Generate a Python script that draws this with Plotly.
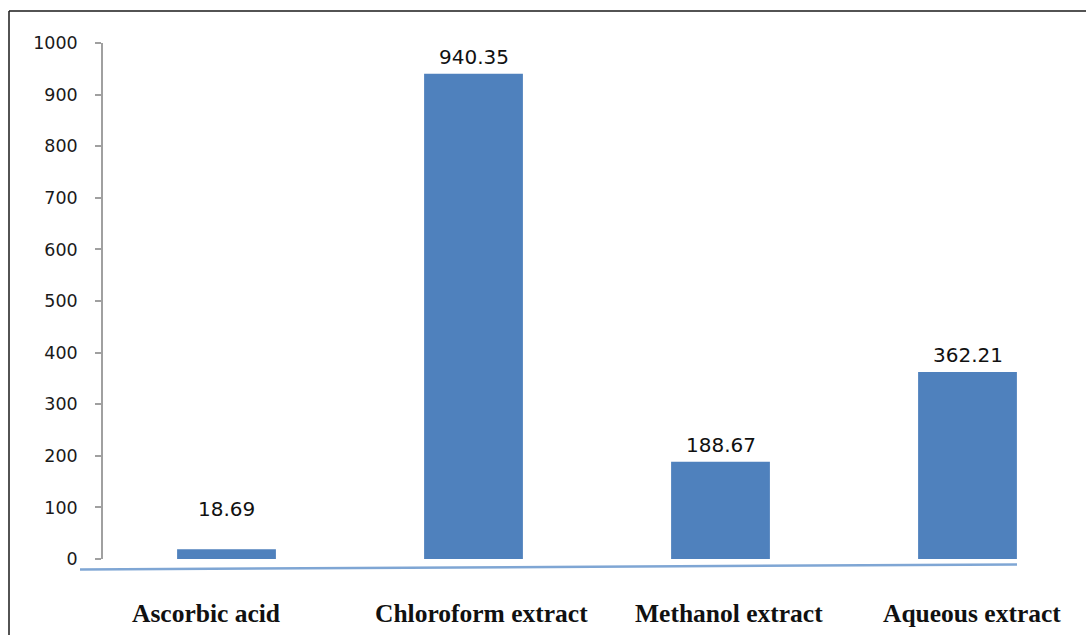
import plotly.graph_objects as go

# Data
categories = ["Ascorbic acid", "Chloroform extract", "Methanol extract", "Aqueous extract"]
values = [18.69, 940.35, 188.67, 362.21]
value_labels = ["18.69", "940.35", "188.67", "362.21"]
y_ticks = [0, 100, 200, 300, 400, 500, 600, 700, 800, 900, 1000]

# Layout constants (pixels)
W, H = 1086, 635
ML, MT, MB = 103, 43, 76
PW, PH = W - ML, H - MT - MB
label_gap = [26, 3, 3, 3]        # vertical shift above each bar for its value label
cat_shift = [-21, 8, 8, 4]       # horizontal nudge of each category label

def px_x(p):
    return (p - ML) / PW

def px_y(p):
    return (H - MB - p) / PH

fig = go.Figure()
fig.add_trace(go.Bar(
    x=list(range(len(categories))),
    y=values,
    width=0.4,
    marker=dict(color="#4F81BD", line=dict(width=0)),
    hoverinfo="skip",
))

# Value labels above bars
for i, (v, t) in enumerate(zip(values, value_labels)):
    fig.add_annotation(
        x=i, y=v, xref="x", yref="y", text=t, showarrow=False,
        yanchor="bottom", yshift=label_gap[i],
        font=dict(family="DejaVu Sans, Verdana, sans-serif", size=20, color="#111111"),
    )

# Category labels under the floor line
for i, c in enumerate(categories):
    fig.add_annotation(
        x=i, y=px_y(613), xref="x", yref="paper", text="<b>%s</b>" % c,
        showarrow=False, yanchor="middle", xshift=cat_shift[i],
        font=dict(family="Liberation Serif, Times New Roman, serif", size=25.5, color="#111111"),
    )

# Floor line, slightly slanted
fig.add_shape(type="line", xref="paper", yref="paper",
              x0=px_x(80), y0=px_y(569.5), x1=px_x(1017), y1=px_y(564.5),
              line=dict(color="#7FA6D4", width=2.5))

# Outer frame (top and left edges)
fig.add_shape(type="line", xref="paper", yref="paper",
              x0=px_x(9), y0=px_y(11), x1=px_x(1090), y1=px_y(11),
              line=dict(color="#1a1a1a", width=1.5))
fig.add_shape(type="line", xref="paper", yref="paper",
              x0=px_x(9), y0=px_y(11), x1=px_x(9), y1=px_y(640),
              line=dict(color="#1a1a1a", width=1.5))

fig.update_layout(
    width=W, height=H,
    margin=dict(l=ML, r=0, t=MT, b=MB),
    plot_bgcolor="white", paper_bgcolor="white",
    showlegend=False,
    xaxis=dict(range=[-0.5, -0.5 + PW / 247.0], showticklabels=False, showgrid=False,
               zeroline=False, showline=False, ticks=""),
    yaxis=dict(range=[0, 1000], tickvals=y_ticks, ticktext=[str(t) for t in y_ticks],
               showgrid=False, zeroline=False, showline=True, linecolor="#A0A0A0", linewidth=1.5,
               ticks="outside", ticklen=6, tickcolor="#A0A0A0", tickwidth=1.5,
               ticklabelstandoff=14,
               tickfont=dict(family="DejaVu Sans, Verdana, sans-serif", size=17.5, color="#1a1a1a")),
)

fig.write_html("out.html")
